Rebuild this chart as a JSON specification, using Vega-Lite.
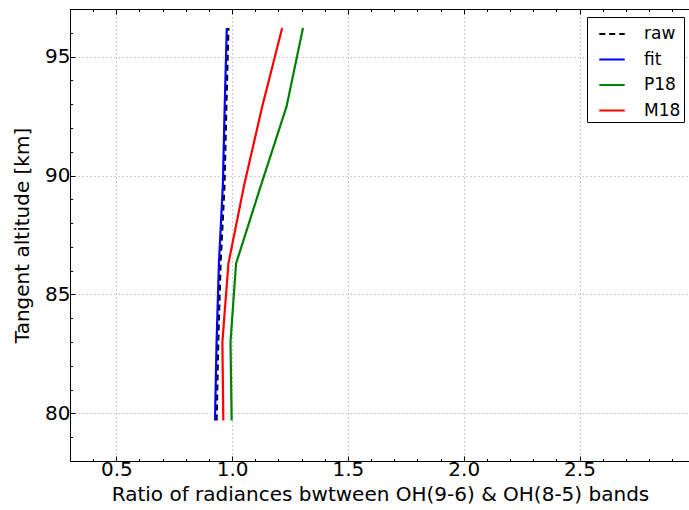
{
  "$schema": "https://vega.github.io/schema/vega-lite/v6.json",
  "width": 620,
  "height": 452,
  "autosize": "none",
  "padding": {"left": 70, "top": 9, "right": 0, "bottom": 49},
  "config": {
    "view": {"stroke": null},
    "font": "DejaVu Sans",
    "axis": {
      "domainColor": "#000000",
      "domainWidth": 1,
      "tickColor": "#000000",
      "labelColor": "#000000",
      "titleColor": "#000000",
      "labelFontSize": 20,
      "titleFontSize": 20,
      "titleFontWeight": "normal",
      "gridColor": "#999999",
      "gridDash": [1, 3],
      "gridWidth": 1
    }
  },
  "data": {
    "values": [
      {"series": "raw", "alt": 79.7, "ratio": 0.933},
      {"series": "raw", "alt": 83.0, "ratio": 0.940},
      {"series": "raw", "alt": 86.3, "ratio": 0.950},
      {"series": "raw", "alt": 89.6, "ratio": 0.967},
      {"series": "raw", "alt": 92.9, "ratio": 0.975},
      {"series": "raw", "alt": 96.2, "ratio": 0.984},
      {"series": "fit", "alt": 79.7, "ratio": 0.926},
      {"series": "fit", "alt": 83.0, "ratio": 0.933},
      {"series": "fit", "alt": 86.3, "ratio": 0.943},
      {"series": "fit", "alt": 89.6, "ratio": 0.960},
      {"series": "fit", "alt": 92.9, "ratio": 0.968},
      {"series": "fit", "alt": 96.2, "ratio": 0.977},
      {"series": "P18", "alt": 79.7, "ratio": 0.998},
      {"series": "P18", "alt": 83.0, "ratio": 0.993},
      {"series": "P18", "alt": 86.3, "ratio": 1.017},
      {"series": "P18", "alt": 89.6, "ratio": 1.125},
      {"series": "P18", "alt": 92.9, "ratio": 1.235},
      {"series": "P18", "alt": 96.2, "ratio": 1.306},
      {"series": "M18", "alt": 79.7, "ratio": 0.962},
      {"series": "M18", "alt": 83.0, "ratio": 0.958},
      {"series": "M18", "alt": 86.3, "ratio": 0.984},
      {"series": "M18", "alt": 89.6, "ratio": 1.052},
      {"series": "M18", "alt": 92.9, "ratio": 1.130},
      {"series": "M18", "alt": 96.2, "ratio": 1.216}
    ]
  },
  "layer": [
    {
      "mark": {"type": "line", "strokeWidth": 2.2, "clip": true},
      "encoding": {
        "x": {
          "field": "ratio",
          "type": "quantitative",
          "scale": {"domain": [0.3, 2.977], "nice": false, "zero": false},
          "axis": {
            "orient": "bottom",
            "title": "Ratio of radiances bwtween OH(9-6) & OH(8-5) bands",
            "values": [0.3, 0.4, 0.5, 0.6, 0.7, 0.8, 0.9, 1.0, 1.1, 1.2, 1.3, 1.4, 1.5, 1.6, 1.7, 1.8, 1.9, 2.0, 2.1, 2.2, 2.3, 2.4, 2.5, 2.6, 2.7, 2.8, 2.9],
            "labelExpr": "abs(datum.value*2 - round(datum.value*2)) < 0.001 ? format(datum.value, '.1f') : ''",
            "tickSize": {"condition": {"test": "abs(datum.value*2 - round(datum.value*2)) < 0.001", "value": -5}, "value": -2.5},
            "gridOpacity": {"condition": {"test": "abs(datum.value*2 - round(datum.value*2)) < 0.001", "value": 1}, "value": 0},
            "grid": true,
            "labelPadding": 3,
            "titlePadding": 5,
            "labelFlush": false
          }
        },
        "y": {
          "field": "alt",
          "type": "quantitative",
          "scale": {"domain": [78, 97], "nice": false, "zero": false},
          "axis": {
            "title": "Tangent altitude [km]",
            "values": [78, 79, 80, 81, 82, 83, 84, 85, 86, 87, 88, 89, 90, 91, 92, 93, 94, 95, 96, 97],
            "labelExpr": "datum.value % 5 == 0 ? format(datum.value, 'd') : ''",
            "tickSize": {"condition": {"test": "datum.value % 5 == 0", "value": -5}, "value": -2.5},
            "gridOpacity": {"condition": {"test": "datum.value % 5 == 0", "value": 1}, "value": 0},
            "grid": true,
            "labelPadding": 5,
            "titlePadding": 12,
            "labelFlush": false
          }
        },
        "color": {
          "field": "series",
          "type": "nominal",
          "scale": {"domain": ["raw", "fit", "P18", "M18"], "range": ["#000000", "#0000ff", "#008000", "#ff0000"]},
          "legend": {
            "title": null,
            "orient": "none",
            "legendX": 517,
            "legendY": 8,
            "strokeColor": "#000000",
            "fillColor": "#ffffff",
            "padding": 3,
            "cornerRadius": 0,
            "symbolType": "stroke",
            "symbolSize": 650,
            "symbolStrokeWidth": 2.2,
            "symbolOffset": 8,
            "labelFontSize": 17,
            "labelColor": "#000000",
            "labelOffset": 18,
            "rowPadding": 3.5
          }
        },
        "strokeDash": {
          "field": "series",
          "type": "nominal",
          "scale": {"domain": ["raw", "fit", "P18", "M18"], "range": [[6, 4], [1, 0], [1, 0], [1, 0]]},
          "legend": {
            "title": null,
            "orient": "none",
            "legendX": 517,
            "legendY": 8
          }
        },
        "order": {"field": "alt", "type": "quantitative"}
      }
    },
    {
      "mark": {"type": "line", "opacity": 0},
      "encoding": {
        "x": {
          "field": "ratio",
          "type": "quantitative",
          "axis": {
            "orient": "top",
            "title": null,
            "labels": false,
            "grid": false,
            "values": [0.3, 0.4, 0.5, 0.6, 0.7, 0.8, 0.9, 1.0, 1.1, 1.2, 1.3, 1.4, 1.5, 1.6, 1.7, 1.8, 1.9, 2.0, 2.1, 2.2, 2.3, 2.4, 2.5, 2.6, 2.7, 2.8, 2.9],
            "tickSize": {"condition": {"test": "abs(datum.value*2 - round(datum.value*2)) < 0.001", "value": -5}, "value": -2.5}
          }
        },
        "y": {
          "field": "alt",
          "type": "quantitative",
          "axis": {
            "title": "Tangent altitude [km]",
            "values": [78, 79, 80, 81, 82, 83, 84, 85, 86, 87, 88, 89, 90, 91, 92, 93, 94, 95, 96, 97],
            "labelExpr": "datum.value % 5 == 0 ? format(datum.value, 'd') : ''",
            "tickSize": {"condition": {"test": "datum.value % 5 == 0", "value": -5}, "value": -2.5},
            "gridOpacity": {"condition": {"test": "datum.value % 5 == 0", "value": 1}, "value": 0},
            "grid": true,
            "labelPadding": 5,
            "titlePadding": 12,
            "labelFlush": false
          }
        },
        "detail": {"field": "series"},
        "order": {"field": "alt", "type": "quantitative"}
      }
    }
  ],
  "resolve": {"axis": {"x": "independent"}}
}
